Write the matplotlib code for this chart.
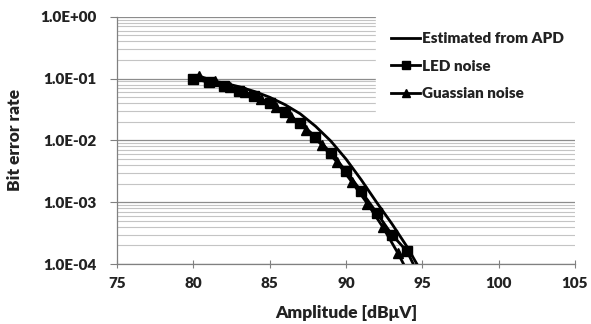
import matplotlib
matplotlib.use("Agg")
import matplotlib.pyplot as plt
from matplotlib.ticker import LogLocator, NullFormatter, FixedLocator, FixedFormatter

plt.rcParams['font.family'] = ['Lato', 'DejaVu Sans']
W = 'heavy'

# Bit error rate versus received amplitude
apd_amp = [80, 81, 82, 83, 84, 85, 86, 87, 88, 89, 90, 91, 92, 93, 94, 95]
apd_ber = [0.105, 0.095, 0.085, 0.074, 0.062, 0.050, 0.038, 0.027, 0.017,
           0.0098, 0.0050, 0.0023, 0.0010, 0.00045, 0.00019, 0.00007]

led_amp = [80, 81, 82, 83, 84, 85, 86, 87, 88, 89, 90, 91, 92, 93, 94, 95]
led_ber = [0.100, 0.088, 0.077, 0.064, 0.052, 0.040, 0.029, 0.019, 0.0115,
           0.0063, 0.0032, 0.0015, 0.00068, 0.00030, 0.00016, 0.00005]

gauss_amp = [80.4, 81.4, 82.4, 83.4, 84.4, 85.4, 86.4, 87.4, 88.4, 89.4,
             90.4, 91.4, 92.4, 93.4, 94.4]
gauss_ber = [0.110, 0.090, 0.074, 0.060, 0.047, 0.035, 0.024, 0.015, 0.0085,
             0.0045, 0.0021, 0.00095, 0.00040, 0.00015, 0.00005]

x_ticks = [75, 80, 85, 90, 95, 100, 105]
y_ticks = [1e-4, 1e-3, 1e-2, 1e-1, 1e0]
y_tick_labels = ["1.0E-04", "1.0E-03", "1.0E-02", "1.0E-01", "1.0E+00"]

fig = plt.figure(figsize=(5.91, 3.24), dpi=100)
ax = fig.add_axes([0.198, 0.185, 0.775, 0.763])

ax.set_yscale('log')
ax.set_xlim(75, 105)
ax.set_ylim(1e-4, 1e0)

ax.plot(apd_amp, apd_ber, color='black', lw=2.0, label='Estimated from APD', zorder=3)
ax.plot(led_amp, led_ber, color='black', lw=2.0, marker='s', ms=6.5,
        label='LED noise', zorder=4)
ax.plot(gauss_amp, gauss_ber, color='black', lw=2.0, marker='^', ms=7.5,
        label='Guassian noise', zorder=4)

# grid: decades darker, intermediate lines lighter
ax.yaxis.set_major_locator(FixedLocator(y_ticks))
ax.yaxis.set_major_formatter(FixedFormatter(y_tick_labels))
ax.yaxis.set_minor_locator(LogLocator(base=10, subs=range(2, 10)))
ax.yaxis.set_minor_formatter(NullFormatter())
ax.grid(True, which='major', axis='y', color='#8c8c8c', lw=0.9)
ax.grid(True, which='minor', axis='y', color='#c4c4c4', lw=0.8)
ax.set_axisbelow(True)

ax.set_xticks(x_ticks)
ax.tick_params(axis='x', which='major', direction='inout', length=6, width=0.8,
               color='#808080', labelsize=11, pad=6)
ax.tick_params(axis='y', which='major', direction='out', length=5, width=0.8,
               color='#808080', labelsize=11, pad=10)
ax.tick_params(axis='y', which='minor', length=0)
for lab in ax.get_xticklabels() + ax.get_yticklabels():
    lab.set_fontweight(W)
    lab.set_color('#222222')

for side in ['top', 'right']:
    ax.spines[side].set_visible(False)
for side in ['left', 'bottom']:
    ax.spines[side].set_color('#808080')
    ax.spines[side].set_linewidth(0.9)

ax.set_xlabel('Amplitude [dBμV]', fontsize=12.5, fontweight=W, color='#222222', labelpad=11)
ax.set_ylabel('Bit error rate', fontsize=12.5, fontweight=W, color='#222222', labelpad=12)

leg = ax.legend(loc='upper right', bbox_to_anchor=(1.01, 1.0), frameon=True,
                fancybox=False, framealpha=1, edgecolor='white', facecolor='white',
                handlelength=1.9, handletextpad=0.15, labelspacing=0.95,
                borderpad=1.0, borderaxespad=0.0,
                prop={'weight': W, 'size': 11}, markerscale=0.85)
for t in leg.get_texts():
    t.set_color('#222222')

fig.savefig('out.png', dpi=100)
